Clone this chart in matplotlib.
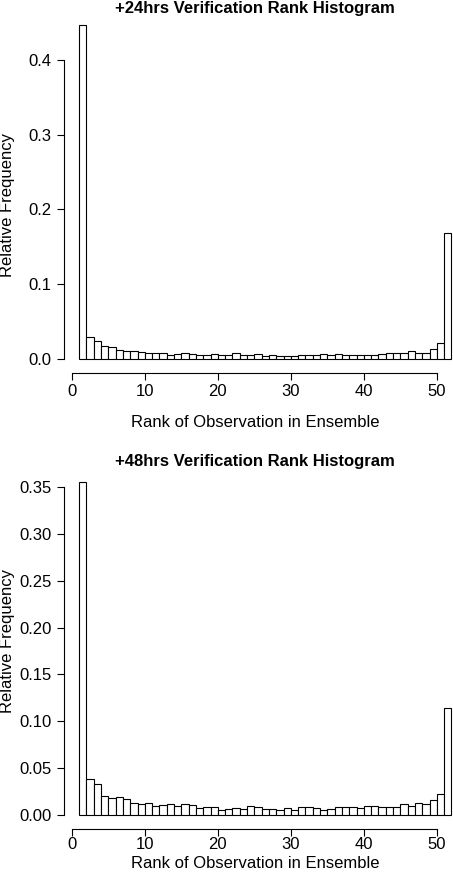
import numpy as np
import matplotlib
matplotlib.use("Agg")
import matplotlib.pyplot as plt

# rank histogram data, 51 ranks (50 member ensemble)
ranks = np.arange(1, 52)

freq_24h = [0.4465, 0.0290, 0.0237, 0.0174, 0.0161, 0.0120, 0.0103, 0.0103, 0.0089, 0.0076,
            0.0076, 0.0076, 0.0058, 0.0070, 0.0074, 0.0066, 0.0050, 0.0054, 0.0067, 0.0054,
            0.0054, 0.0080, 0.0054, 0.0054, 0.0067, 0.0040, 0.0050, 0.0045, 0.0040, 0.0040,
            0.0058, 0.0058, 0.0054, 0.0067, 0.0054, 0.0063, 0.0058, 0.0058, 0.0058, 0.0058,
            0.0058, 0.0067, 0.0076, 0.0076, 0.0076, 0.0103, 0.0080, 0.0080, 0.0138, 0.0210,
            0.1690]

freq_48h = [0.3560, 0.0388, 0.0327, 0.0199, 0.0185, 0.0189, 0.0167, 0.0125, 0.0114, 0.0125,
            0.0093, 0.0103, 0.0121, 0.0096, 0.0114, 0.0103, 0.0078, 0.0085, 0.0085, 0.0057,
            0.0064, 0.0078, 0.0060, 0.0093, 0.0085, 0.0064, 0.0064, 0.0053, 0.0071, 0.0057,
            0.0082, 0.0082, 0.0071, 0.0053, 0.0060, 0.0089, 0.0085, 0.0085, 0.0078, 0.0093,
            0.0100, 0.0082, 0.0082, 0.0082, 0.0114, 0.0096, 0.0132, 0.0117, 0.0164, 0.0221,
            0.1142]

titles = ["+24hrs Verification Rank Histogram", "+48hrs Verification Rank Histogram"]
yticks_24 = [0.0, 0.1, 0.2, 0.3, 0.4]
yticks_48 = [0.00, 0.05, 0.10, 0.15, 0.20, 0.25, 0.30, 0.35]
xticks = [0, 10, 20, 30, 40, 50]

plt.rcParams["font.family"] = ["Liberation Sans", "DejaVu Sans"]
plt.rcParams["font.size"] = 12

W, H = 453, 874
fig = plt.figure(figsize=(W / 100, H / 100), dpi=100)

def px_axes(left, top, right, bottom):
    return fig.add_axes([left / W, 1 - bottom / H, (right - left) / W, (bottom - top) / H])

def rank_hist(ax, freq, yticks, ylim, tick_pad_x):
    ax.bar(ranks, freq, width=1.0, align="edge", color="white", edgecolor="black",
           linewidth=0.8, clip_on=False)
    ax.set_xlim(-1.14, 51.25)
    ax.set_ylim(*ylim)
    for s in ["top", "right"]:
        ax.spines[s].set_visible(False)
    ax.spines["left"].set_bounds(yticks[0], yticks[-1])
    ax.spines["bottom"].set_bounds(0, 50)
    ax.spines["left"].set_linewidth(0.8)
    ax.spines["bottom"].set_linewidth(0.8)
    ax.set_xticks(xticks)
    ax.set_yticks(yticks)
    if len(yticks) > 5:
        ax.set_yticklabels([f"{v:.2f}" for v in yticks])
    else:
        ax.set_yticklabels([f"{v:.1f}" for v in yticks])
    ax.tick_params(axis="y", direction="out", length=5, width=0.8, pad=3.5)
    ax.tick_params(axis="x", direction="out", length=5, width=0.8, pad=tick_pad_x)

# top panel: zero at y=359px, 748 px per unit
ax1 = px_axes(63.5, 12, 446, 372.5)
rank_hist(ax1, freq_24h, yticks_24, (-13.5 / 748, 347 / 748), 3.6)

# bottom panel: zero at y=815px, 936.7 px per unit
ax2 = px_axes(63.5, 468, 446, 829)
rank_hist(ax2, freq_48h, yticks_48, (-14 / 936.7, 347 / 936.7), 0.8)

fig.text(255 / W, 1 - 8.5 / H, titles[0], ha="center", va="center", fontweight="bold", fontsize=12)
fig.text(255 / W, 1 - 461.7 / H, titles[1], ha="center", va="center", fontweight="bold", fontsize=12)

fig.text(255 / W, 1 - 426.7 / H, "Rank of Observation in Ensemble", ha="center", va="baseline")
fig.text(255 / W, 1 - 868.3 / H, "Rank of Observation in Ensemble", ha="center", va="baseline")

fig.text(8 / W, 1 - 205 / H, "Relative Frequency", rotation=90, ha="center", va="center")
fig.text(8 / W, 1 - 641 / H, "Relative Frequency", rotation=90, ha="center", va="center")

fig.savefig("out.png", dpi=100)
